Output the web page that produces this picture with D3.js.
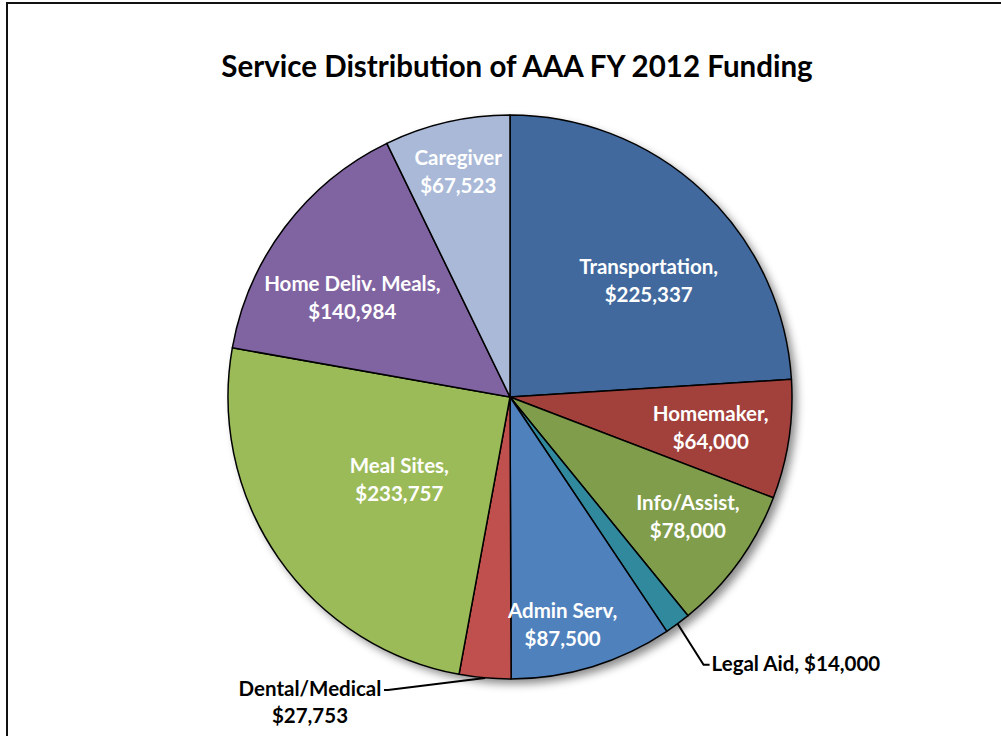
<!DOCTYPE html>
<html>
<head>
<meta charset="utf-8">
<script src="https://cdn.jsdelivr.net/npm/d3@7"></script>
<style>
  body { margin: 0; background: #fff; }
  svg text { font-family: Lato, "Open Sans", sans-serif; font-weight: bold; }
</style>
</head>
<body>
<svg id="chart" width="1001" height="736"></svg>
<script>
// data
const services = ["Transportation", "Homemaker", "Info/Assist", "Legal Aid", "Admin Serv",
    "Dental/Medical", "Meal Sites", "Home Deliv. Meals", "Caregiver"];
const funding = [225337, 64000, 78000, 14000, 87500, 27753, 233757, 140984, 67523];
const sliceColors = ["#41699d", "#a2403c", "#7f9d4a", "#31899e", "#4f81bd",
    "#c0504d", "#9bbb59", "#8064a2", "#a9b9d7"];

// label layout: [radius fraction, angle nudge in degrees, separator after name]
const labelLayout = [[0.64, 7, ","], [0.72, 0, ","], [0.76, -2, ","], null, [0.83, 4, ","],
    null, [0.49, -2, ","], [0.66, -5, ","], [0.82, 0, ""]];

const svg = d3.select("#chart");
const cx = 510, cy = 397, r = 282;
const fs = 20.5;

// frame
svg.append("rect")
    .attr("x", 7).attr("y", 3)
    .attr("width", 1010).attr("height", 760)
    .attr("fill", "none")
    .attr("stroke", "#111")
    .attr("stroke-width", 2);

// title
svg.append("text")
    .attr("x", 517).attr("y", 77)
    .attr("text-anchor", "middle")
    .attr("font-size", 29.5)
    .attr("fill", "#000")
    .text("Service Distribution of AAA FY 2012 Funding");

// shadow
const defs = svg.append("defs");
const filt = defs.append("filter").attr("id", "shadow")
    .attr("x", "-20%").attr("y", "-20%").attr("width", "140%").attr("height", "140%");
filt.append("feDropShadow")
    .attr("dx", 5).attr("dy", 5).attr("stdDeviation", 4)
    .attr("flood-color", "#000").attr("flood-opacity", 0.45);

const fmt = d3.format("$,");
const pieData = d3.pie().sort(null).value(d => d)(funding);
const arc = d3.arc().innerRadius(0).outerRadius(r);

const g = svg.append("g").attr("transform", `translate(${cx},${cy})`);

g.append("circle").attr("r", r).attr("fill", "#fff").attr("filter", "url(#shadow)");

g.selectAll("path.slice")
    .data(pieData)
    .enter()
    .append("path")
    .attr("class", "slice")
    .attr("d", arc)
    .attr("fill", (d, i) => sliceColors[i])
    .attr("stroke", "#000")
    .attr("stroke-width", 1.5)
    .attr("stroke-linejoin", "round");

// inside labels
pieData.forEach((d, i) => {
    const lay = labelLayout[i];
    if (!lay) return;
    const a = (d.startAngle + d.endAngle) / 2 + lay[1] * Math.PI / 180;
    const x = Math.sin(a) * r * lay[0], y = -Math.cos(a) * r * lay[0];
    const t = g.append("text")
        .attr("text-anchor", "middle")
        .attr("font-size", fs)
        .attr("fill", "#fff");
    t.append("tspan").attr("x", x).attr("y", y - 7).text(services[i] + lay[2]);
    t.append("tspan").attr("x", x).attr("y", y + 21).text(fmt(funding[i]));
});

// outside labels with leader lines
function edgePoint(d, frac) {
    const a = d.startAngle + (d.endAngle - d.startAngle) * frac;
    return [Math.sin(a) * r, -Math.cos(a) * r];
}

// Legal Aid
const la = pieData[3];
const p1 = edgePoint(la, 0.5);
g.append("path")
    .attr("d", d3.line()([p1, [p1[0] + 26, p1[1] + 41], [p1[0] + 32, p1[1] + 41]]))
    .attr("fill", "none").attr("stroke", "#000").attr("stroke-width", 2);
g.append("text")
    .attr("x", p1[0] + 34).attr("y", p1[1] + 47)
    .attr("font-size", fs).attr("fill", "#000")
    .text(services[3] + ", " + fmt(funding[3]));

// Dental/Medical
const dm = pieData[5];
const p2 = edgePoint(dm, 0.5);
g.append("path")
    .attr("d", d3.line()([p2, [p2[0] - 97, p2[1] + 12], [p2[0] - 101, p2[1] + 12]]))
    .attr("fill", "none").attr("stroke", "#000").attr("stroke-width", 2);
const dt = g.append("text")
    .attr("text-anchor", "middle")
    .attr("font-size", fs).attr("fill", "#000");
dt.append("tspan").attr("x", p2[0] - 175).attr("y", p2[1] + 18).text(services[5]);
dt.append("tspan").attr("x", p2[0] - 175).attr("y", p2[1] + 45).text(fmt(funding[5]));
</script>
</body>
</html>
